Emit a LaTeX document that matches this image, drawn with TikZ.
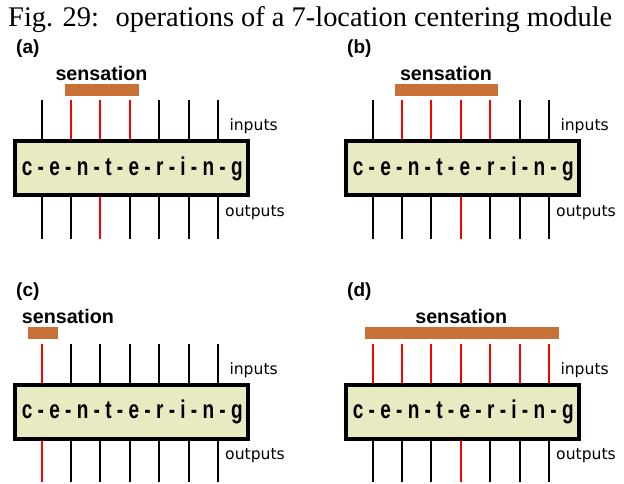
\documentclass[tikz,border=0pt]{standalone}
\usepackage{fontspec}
\setsansfont{Liberation Sans}
\newfontfamily\lblfont{DejaVu Sans}
\newfontfamily\titlefont{Liberation Serif}
\usepackage{graphicx}
\definecolor{barc}{HTML}{C87137}
\definecolor{boxc}{HTML}{EAEAC2}
\definecolor{redl}{HTML}{FF0000}
\tikzset{
  modbox/.style={draw=black, line width=4pt, fill=boxc, minimum width=233.5pt, minimum height=54pt, inner sep=0pt},
  captext/.style={font=\sffamily\bfseries\fontsize{25.7}{28}\selectfont, inner sep=0pt, anchor=base},
  panlbl/.style={font=\sffamily\bfseries\fontsize{19}{22}\selectfont, inner sep=0pt, anchor=base west},
  senstext/.style={font=\sffamily\bfseries\fontsize{19.7}{22}\selectfont, inner sep=0pt},
  iolbl/.style={font=\lblfont\fontsize{15.6}{18}\selectfont, inner sep=0pt, anchor=base west},
  sensbar/.style={fill=barc, inner sep=0pt, minimum height=11.7pt, anchor=south west},
  wire/.style={line width=2.6pt},
}
\newcommand\mypanel[8]{%
  % #1 name, #2 dx, #3 dy, #4 label, #5 first red in, #6 last red in, #7 red out, #8 bar x1/x2 as "x1/x2"
  \begin{scope}[shift={(#2,#3)}]
    \node[modbox] (box#1) at (131.25,168.3) {};
    \node[captext] (txt#1) at (132.3,175) {\scalebox{0.74}[1]{c - e - n - t - e - r - i - n - g}};
    \node[panlbl] (lbl#1) at (16,53.2) {(#4)};
    \node[iolbl] (inl#1) at (229.3,130.7) {inputs};
    \node[iolbl] (outl#1) at (225,216) {outputs};
    \foreach \bx/\by in {#8} {
      \pgfmathsetmacro\bw{\by-\bx}
      \node[sensbar, minimum width=\bw pt] (bar#1) at (\bx,95.7) {};
    }
    \foreach \xx [count=\i] in {42,71,100,130,159,189,218} {
      \ifnum\i<#5 \def\lc{black}\else\ifnum\i>#6 \def\lc{black}\else\def\lc{redl}\fi\fi
      \ifnum\i=#7 \def\oc{redl}\else\def\oc{black}\fi
      \coordinate (in#1\i) at (\xx,100);
      \draw[wire, draw=\lc] (in#1\i) -- (in#1\i |- box#1.north);
      \coordinate (out#1\i) at (\xx,238.5);
      \draw[wire, draw=\oc] (box#1.south -| out#1\i) -- (out#1\i);
    }
  \end{scope}
}
\begin{document}
\begin{tikzpicture}[x=1pt, y=-1pt]
  \useasboundingbox (0,0) rectangle (624,483);
  \node[anchor=base west, inner sep=0pt] (title) at (8,26) {\resizebox{604pt}{!}{\titlefont Fig. 29:~ operations of a 7-location centering module}};
  \mypanel{a}{0}{0}{a}{2}{4}{3}{65/139}
  \mypanel{b}{331}{0}{b}{2}{5}{4}{64/166.7}
  \mypanel{c}{0}{243.5}{c}{1}{1}{1}{28/57.3}
  \mypanel{d}{331}{243.5}{d}{1}{7}{4}{34/227.3}
  \node[senstext, anchor=base] (sensa) at (101.5,80) {sensation};
  \node[senstext, anchor=base] (sensb) at (446,80) {sensation};
  \node[senstext, anchor=base west] (sensc) at (21.7,323.5) {sensation};
  \node[senstext, anchor=base] (sensd) at (461.3,323.5) {sensation};
\end{tikzpicture}
\end{document}
